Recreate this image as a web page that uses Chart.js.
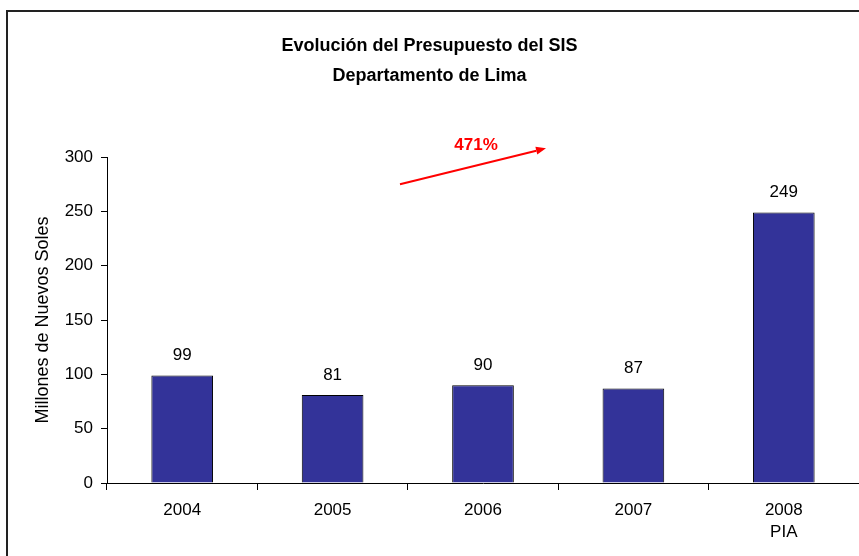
<!DOCTYPE html>
<html><head><meta charset="utf-8">
<script src="https://cdn.jsdelivr.net/npm/chart.js@4"></script>
<style>html,body{margin:0;padding:0;background:#fff}#wrap{width:859px;height:556px;position:relative}</style>
</head><body><div id="wrap"><canvas id="c" width="859" height="556"></canvas></div>
<script>
const categories = [['2004'], ['2005'], ['2006'], ['2007'], ['2008', 'PIA']];
const values = [99, 81, 90, 87, 249];
const yTickMin = 0;
const yTickMax = 300;
const yTickStep = 50;
const titleLines = ['Evolución del Presupuesto del SIS', 'Departamento de Lima'];
const yTitle = 'Millones de Nuevos Soles';
const growthLabel = '471%';
// arrow annotation anchored to axis units: [category index, value]
const arrowFrom = [1.448, 275];
const arrowTo = [2.419, 308];
const growthLabelAt = [1.954, 311];

const FONT = 'Arial, "Liberation Sans", Helvetica, sans-serif';

const decorPlugin = {
  id: 'decor',
  afterDatasetsDraw(chart) {
    const ctx = chart.ctx;
    const meta = chart.getDatasetMeta(0);
    ctx.save();
    ctx.fillStyle = '#000';
    ctx.font = '17px ' + FONT;
    ctx.textAlign = 'center';
    ctx.textBaseline = 'middle';
    meta.data.forEach((bar, i) => {
      ctx.fillText(String(values[i]), bar.x, bar.y - 20);
    });
    // growth arrow
    const xs = chart.scales.x, ys = chart.scales.y;
    const x1 = xs.getPixelForValue(arrowFrom[0]), y1 = ys.getPixelForValue(arrowFrom[1]);
    const x2 = xs.getPixelForValue(arrowTo[0]), y2 = ys.getPixelForValue(arrowTo[1]);
    const ang = Math.atan2(y2 - y1, x2 - x1);
    const hl = 10, hw = 4;
    ctx.strokeStyle = '#ff0000';
    ctx.fillStyle = '#ff0000';
    ctx.lineWidth = 2;
    ctx.beginPath();
    ctx.moveTo(x1, y1);
    ctx.lineTo(x2 - hl * Math.cos(ang), y2 - hl * Math.sin(ang));
    ctx.stroke();
    ctx.beginPath();
    ctx.moveTo(x2, y2);
    ctx.lineTo(x2 - hl * Math.cos(ang) + hw * Math.sin(ang), y2 - hl * Math.sin(ang) - hw * Math.cos(ang));
    ctx.lineTo(x2 - hl * Math.cos(ang) - hw * Math.sin(ang), y2 - hl * Math.sin(ang) + hw * Math.cos(ang));
    ctx.closePath();
    ctx.fill();
    ctx.font = 'bold 17px ' + FONT;
    ctx.fillText(growthLabel, xs.getPixelForValue(growthLabelAt[0]), ys.getPixelForValue(growthLabelAt[1]));
    ctx.restore();
  },
  afterDraw(chart) {
    const ctx = chart.ctx;
    ctx.save();
    ctx.strokeStyle = '#222';
    ctx.lineWidth = 2;
    ctx.strokeRect(7, 11, 900, 700);
    ctx.restore();
  }
};

new Chart(document.getElementById('c'), {
  type: 'bar',
  data: {
    labels: categories,
    datasets: [{
      data: values,
      backgroundColor: '#333399',
      borderColor: '#000',
      borderWidth: 1,
      barPercentage: 0.41,
      categoryPercentage: 1
    }]
  },
  options: {
    responsive: false,
    devicePixelRatio: 1,
    animation: false,
    layout: { padding: { top: 0, left: 0, right: 0, bottom: 0 } },
    plugins: {
      legend: { display: false },
      tooltip: { enabled: false },
      title: {
        display: true,
        text: titleLines,
        color: '#000',
        font: { family: FONT, size: 18, weight: 'bold', lineHeight: 1.667 },
        padding: { top: 31, bottom: 66 }
      }
    },
    scales: {
      x: {
        grid: { offset: true, drawOnChartArea: false, drawTicks: true, tickLength: 7, color: '#000' },
        border: { display: true, color: '#000', width: 1 },
        ticks: { color: '#000', font: { family: FONT, size: 17, lineHeight: 1.294 }, padding: 9, maxRotation: 0 },
        afterFit(scale) { scale.height = 73; }
      },
      y: {
        min: yTickMin,
        max: yTickMax,
        ticks: { stepSize: yTickStep, color: '#000', font: { family: FONT, size: 17 }, padding: 8 },
        grid: { drawOnChartArea: false, drawTicks: true, tickLength: 6, color: '#000' },
        border: { display: true, color: '#000', width: 1 },
        title: { display: true, text: yTitle, color: '#000', font: { family: FONT, size: 18, lineHeight: 1.2 }, padding: { top: 32, bottom: 0 } },
        afterFit(scale) { scale.width = 107; }
      }
    }
  },
  plugins: [decorPlugin]
});
</script>
</body></html>
